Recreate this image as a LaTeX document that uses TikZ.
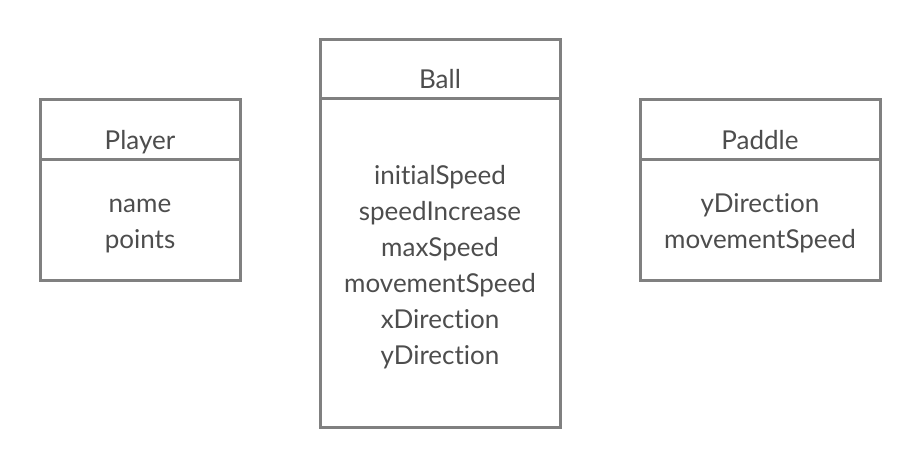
\documentclass[tikz,border=0pt]{standalone}
\usepackage{fontspec}
\setmainfont{Lato}[Ligatures=NoCommon]
\usepackage{xcolor}
\usetikzlibrary{positioning}
\definecolor{frame}{HTML}{808080}
\definecolor{ink}{HTML}{4D4D4D}

\begin{document}
\begin{tikzpicture}[
  x=1pt, y=1pt,
  every node/.style={font=\fontsize{26}{36}\selectfont, text=ink},
  classhead/.style={draw=frame, line width=3pt, outer sep=0pt, inner sep=0pt,
                    minimum height=59pt, text height=44pt, text depth=5pt},
  classbody/.style={draw=frame, line width=3pt, outer sep=0pt, inner sep=0pt,
                    align=center, text depth=7pt}
]
  \useasboundingbox (0,0) rectangle (920,-468);

  % Ball class
  \node[classhead, minimum width=240pt] (ballhead) at (440,-69.5) {Ball};
  \node[classbody, text height=209pt, minimum width=240pt, minimum height=328pt,
        below=0pt of ballhead] (ballbody)
    {initialSpeed\\speedIncrease\\maxSpeed\\movementSpeed\\xDirection\\yDirection};

  % Player class
  \node[classhead, minimum width=200pt, left=80pt of ballhead, yshift=-60pt] (playerhead) {Player};
  \node[classbody, text height=65pt, minimum width=200pt, minimum height=121pt,
        below=0pt of playerhead] (playerbody)
    {name\\points};

  % Paddle class
  \node[classhead, minimum width=240pt, right=80pt of ballhead, yshift=-60pt] (paddlehead) {Paddle};
  \node[classbody, text height=65pt, minimum width=240pt, minimum height=121pt,
        below=0pt of paddlehead] (paddlebody)
    {yDirection\\movementSpeed};
\end{tikzpicture}
\end{document}
